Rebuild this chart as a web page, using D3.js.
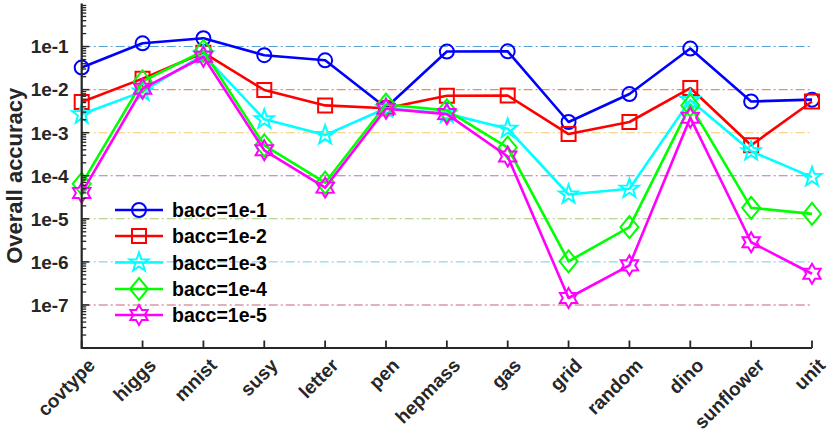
<!DOCTYPE html>
<html>
<head>
<meta charset="utf-8">
<script src="https://cdn.jsdelivr.net/npm/d3@7/dist/d3.min.js"></script>
<style>
  body { margin: 0; background: #fff; }
  svg { display: block; }
  text { font-family: "Liberation Sans", Arial, Helvetica, sans-serif; font-weight: bold; }
</style>
</head>
<body>
<svg id="chart" width="830" height="441"></svg>
<script>
// datasets on the x axis
const datasets = ['covtype', 'higgs', 'mnist', 'susy', 'letter', 'pen', 'hepmass', 'gas', 'grid', 'random', 'dino', 'sunflower', 'unit'];

// overall accuracy per bacc setting
const bacc1 = [3.25e-2, 0.119, 0.156, 0.063, 0.048, 3.8e-3, 0.0765, 0.0775, 1.77e-3, 7.9e-3, 0.09, 5.3e-3, 5.85e-3];
const bacc2 = [5.15e-3, 0.018, 0.072, 9.8e-3, 4.3e-3, 3.7e-3, 7.2e-3, 7.3e-3, 9.3e-4, 1.77e-3, 0.0109, 5.1e-4, 5.3e-3];
const bacc3 = [2.67e-3, 9e-3, 0.065, 2.04e-3, 8.8e-4, 3.7e-3, 2.77e-3, 1.24e-3, 3.67e-5, 5e-5, 5.7e-3, 3.7e-4, 9.3e-5];
const bacc4 = [6.5e-5, 0.0155, 0.079, 5.1e-4, 6.9e-5, 4.5e-3, 3.3e-3, 4.5e-4, 1.03e-6, 6.4e-6, 4.3e-3, 1.8e-5, 1.3e-5];
const bacc5 = [4e-5, 0.0105, 0.058, 3.9e-4, 5.3e-5, 3.6e-3, 2.7e-3, 2.8e-4, 1.45e-7, 8.3e-7, 2.23e-3, 2.86e-6, 5.3e-7];

const seriesNames = ['bacc=1e-1', 'bacc=1e-2', 'bacc=1e-3', 'bacc=1e-4', 'bacc=1e-5'];
const seriesValues = [bacc1, bacc2, bacc3, bacc4, bacc5];
const seriesColors = ['#0000ff', '#ff0000', '#00ffff', '#00ff00', '#ff00ff'];
const seriesMarkers = ['circle', 'square', 'pentagram', 'diamond', 'hexagram'];

// y ticks and the dash-dot reference lines
const yTickValues = [1e-1, 1e-2, 1e-3, 1e-4, 1e-5, 1e-6, 1e-7];
const yTickLabels = ['1e-1', '1e-2', '1e-3', '1e-4', '1e-5', '1e-6', '1e-7'];
const refColors = ['#0072bd', '#d95319', '#edb120', '#7e2f8e', '#77ac30', '#4dbeee', '#a2142f'];

const svg = d3.select('#chart');
const axisColor = '#262626';

const plotL = 81.7, plotR = 812, plotT = 3.5, plotB = 348;

const x = d3.scalePoint().domain(datasets).range([plotL, plotR]);
const y = d3.scaleLog().domain([1e-8, 1e0]).range([plotB, plotT]);

// reference lines
svg.append('g')
    .selectAll('line')
    .data(yTickValues)
    .enter()
    .append('line')
    .attr('x1', plotL)
    .attr('x2', plotR)
    .attr('y1', d => y(d))
    .attr('y2', d => y(d))
    .attr('stroke', (d, i) => refColors[i])
    .attr('stroke-opacity', 0.65)
    .attr('stroke-width', 1.1)
    .attr('stroke-dasharray', '9,3,2,3');

// star path helper
const starPath = (n, rOut, rIn, rot) => {
    const pts = [];
    for (let k = 0; k < 2 * n; k++) {
        const r = k % 2 === 0 ? rOut : rIn;
        const a = rot + k * Math.PI / n;
        pts.push([r * Math.cos(a), r * Math.sin(a)]);
    }
    return 'M' + pts.map(p => p[0].toFixed(2) + ',' + p[1].toFixed(2)).join('L') + 'Z';
};

const markerPath = type => {
    switch (type) {
    case 'circle':
        return 'M7,0A7,7 0 1,1 -7,0A7,7 0 1,1 7,0Z';
    case 'square':
        return 'M-7,-7L7,-7L7,7L-7,7Z';
    case 'diamond':
        return 'M0,-11L9,0L0,11L-9,0Z';
    case 'pentagram':
        return starPath(5, 10, 4, -Math.PI / 2);
    case 'hexagram':
        return starPath(6, 10, 5.8, -Math.PI / 2);
    }
};

const line = d3.line()
    .x((d, i) => x(datasets[i]))
    .y(d => y(d));

// series
seriesValues.forEach((vals, s) => {
    const g = svg.append('g');
    g.append('path')
        .attr('d', line(vals))
        .attr('fill', 'none')
        .attr('stroke', seriesColors[s])
        .attr('stroke-width', 2.6)
        .attr('stroke-linejoin', 'round');
    g.selectAll('path.mk')
        .data(vals)
        .enter()
        .append('path')
        .attr('class', 'mk')
        .attr('d', markerPath(seriesMarkers[s]))
        .attr('transform', (d, i) => `translate(${x(datasets[i])},${y(d)})`)
        .attr('fill', 'none')
        .attr('stroke', seriesColors[s])
        .attr('stroke-width', 2);
});

// axes
const yMinor = [];
for (let e = -8; e < 0; e++) {
    for (let m = 2; m <= 9; m++) yMinor.push(m * Math.pow(10, e));
}

const axes = svg.append('g');
axes.selectAll('line.minor')
    .data(yMinor)
    .enter()
    .append('line')
    .attr('x1', plotL)
    .attr('x2', plotL + 4.5)
    .attr('y1', d => y(d))
    .attr('y2', d => y(d))
    .attr('stroke', axisColor)
    .attr('stroke-width', 1.3);

axes.selectAll('line.major')
    .data(yTickValues)
    .enter()
    .append('line')
    .attr('x1', plotL)
    .attr('x2', plotL + 7.5)
    .attr('y1', d => y(d))
    .attr('y2', d => y(d))
    .attr('stroke', axisColor)
    .attr('stroke-width', 1.5);

axes.selectAll('line.xt')
    .data(datasets)
    .enter()
    .append('line')
    .attr('x1', d => x(d))
    .attr('x2', d => x(d))
    .attr('y1', plotB)
    .attr('y2', plotB - 7.5)
    .attr('stroke', axisColor)
    .attr('stroke-width', 1.8);

axes.append('path')
    .attr('d', `M${plotL},${plotT}L${plotL},${plotB}L${plotR},${plotB}`)
    .attr('fill', 'none')
    .attr('stroke', axisColor)
    .attr('stroke-width', 2.2);

// tick labels
axes.selectAll('text.yl')
    .data(yTickValues)
    .enter()
    .append('text')
    .attr('x', plotL - 13)
    .attr('y', d => y(d))
    .attr('dy', '0.36em')
    .attr('text-anchor', 'end')
    .attr('font-size', 19)
    .attr('fill', axisColor)
    .text((d, i) => yTickLabels[i]);

axes.selectAll('text.xl')
    .data(datasets)
    .enter()
    .append('text')
    .attr('transform', d => `translate(${x(d) + 2.5},354.5) rotate(-45)`)
    .attr('dy', '0.9em')
    .attr('text-anchor', 'end')
    .attr('font-size', 19)
    .attr('fill', axisColor)
    .text(d => d);

svg.append('text')
    .attr('transform', `translate(22,${(plotT + plotB) / 2}) rotate(-90)`)
    .attr('text-anchor', 'middle')
    .attr('font-size', 22)
    .attr('fill', axisColor)
    .text('Overall accuracy');

// legend
const legendRows = [210, 236, 262.5, 289, 315];
const legend = svg.append('g');
seriesNames.forEach((name, s) => {
    const ly = legendRows[s];
    legend.append('line')
        .attr('x1', 115)
        .attr('x2', 163)
        .attr('y1', ly)
        .attr('y2', ly)
        .attr('stroke', seriesColors[s])
        .attr('stroke-width', 2.6);
    legend.append('path')
        .attr('d', markerPath(seriesMarkers[s]))
        .attr('transform', `translate(139,${ly})`)
        .attr('fill', 'none')
        .attr('stroke', seriesColors[s])
        .attr('stroke-width', 2);
    legend.append('text')
        .attr('x', 172)
        .attr('y', ly)
        .attr('dy', '0.36em')
        .attr('font-size', 19.5)
        .attr('fill', '#000')
        .text(name);
});
</script>
</body>
</html>
